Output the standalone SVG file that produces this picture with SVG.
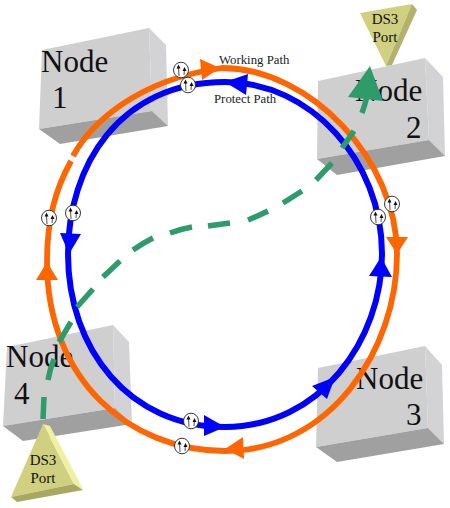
<svg xmlns="http://www.w3.org/2000/svg" width="450" height="508" viewBox="0 0 450 508">
<style>
.f{fill:#cfcfcf}.s{fill:#d3d3d5}.b{fill:#a0a0a0}
.n{font-family:"Liberation Serif","Times New Roman",serif;font-size:31px;fill:#111}
.d{font-family:"Liberation Serif","Times New Roman",serif;font-size:15px;fill:#111;text-anchor:middle}
.l{font-family:"Liberation Serif","Times New Roman",serif;font-size:12.8px;fill:#222}
.o{fill:none;stroke:#ff6600;stroke-width:5.8}
.u{fill:none;stroke:#0000ff;stroke-width:6}
.g{fill:none;stroke:#2e9b6a;stroke-width:5.5}
.oa{fill:#ff6600}.ua{fill:#0000ff}.ga{fill:#2e9b6a}
.t1{fill:#d0d080}.t2{fill:#b2b26c}.t3{fill:#f0f0a0}.t4{fill:#a8a860}
</style>
<defs>
<g id="sw">
<ellipse cx="0" cy="0" rx="7.5" ry="7.8" fill="#fff" stroke="#222" stroke-width="0.9"/>
<path d="M-2,6L-2.5,-3M3,5L3.5,-1" stroke="#222" stroke-width="0.8" fill="none"/>
<path d="M-2.5,-5.5L-4.5,-1.5H-0.5ZM3.5,-3L1.5,1H5.5Z" fill="#111"/>
</g>
</defs>
<g id="node1">
<polygon class="f" points="42,50 149,28 152,111 39,129"/>
<polygon class="s" points="149,28 166,45 168,126 152,111"/>
<polygon class="b" points="39,129 152,111 168,126 60,144"/>
<text class="n" x="41" y="72">Node</text><text class="n" x="52" y="108">1</text>
</g>
<g id="node2">
<polygon class="f" points="318,81 425,58 429,140 317,159"/>
<polygon class="s" points="425,58 443,77 445,156 429,140"/>
<polygon class="b" points="317,159 429,140 445,156 337,175"/>
<text class="n" x="355" y="101">Node</text><text class="n" x="406" y="138">2</text>
</g>
<g id="node3">
<polygon class="f" points="318,368 425,346 428,428 316,447"/>
<polygon class="s" points="425,346 442,365 444,444 428,428"/>
<polygon class="b" points="316,447 428,428 444,444 337,462"/>
<text class="n" x="356" y="389">Node</text><text class="n" x="406" y="425">3</text>
</g>
<g id="node4">
<polygon class="f" points="7,347 113,325 115,408 3,426"/>
<polygon class="s" points="113,325 129,342 132,424 115,408"/>
<polygon class="b" points="3,426 115,408 132,424 23,441"/>
<text class="n" x="6" y="367">Node</text><text class="n" x="14" y="404">4</text>
</g>
<g id="connectors">
<path class="o" d="M73,156C90,125 135,80 222,68C310,68 397,160 397,254C397,350 330,451 225,451C130,451 47,380 47,262C47,220 55,190 71,161"/>
<path class="u" d="M68,254C68,165 120,82 225,82C310,82 382,160 382,254C382,340 320,427 225,427C130,427 68,350 68,254"/>
<polygon class="oa" points="220,68 200,59 202,80"/>
<polygon class="oa" points="397,254 386,237 408,237"/>
<polygon class="oa" points="225,449 243,437 244,459"/>
<polygon class="oa" points="47,262 36,280 58,280"/>
<polygon class="ua" points="225,82 248,74 246,95"/>
<polygon class="ua" points="69,254 60,233 81,234"/>
<polygon class="ua" points="381,257 369,276 392,277"/>
<polygon class="ua" points="335,377 312,386 327,399"/>
<polygon class="ua" points="225,427 204,415 204,436"/>
<path class="g" d="M43,419L44,397M48,380Q50,369 54,359M59,342L71,322M77,307L93,289M103,277L120,261M133,250Q143,243 153,238M170,233Q181,229 192,227M208,226L230,223M248,220Q258,216 268,211M283,203L302,191M316,180L332,163M342,148L354,131M362,113Q365,105 367,96"/>
<polygon class="ga" points="370,66 348,97 383,101"/>
<use href="#sw" x="181" y="70"/><use href="#sw" x="188" y="85"/>
<use href="#sw" x="49" y="218"/><use href="#sw" x="73" y="213"/>
<use href="#sw" x="392" y="204"/><use href="#sw" x="378" y="217"/>
<use href="#sw" x="191" y="421"/><use href="#sw" x="182" y="446"/>
</g>
<g id="port-top">
<polygon class="t1" points="360,13 412,4 386,66"/>
<polygon class="t2" points="412,4 417,10 392,65 386,66"/>
<text class="d" x="385" y="24">DS3</text><text class="d" x="385" y="42">Port</text>
</g>
<g id="port-bottom">
<polygon class="t1" points="43,424 74,484 11,497"/>
<polygon class="t3" points="43,424 50,426 83,489 74,484"/>
<polygon class="t4" points="11,497 74,484 83,490 17,502"/>
<text class="d" x="43" y="465">DS3</text><text class="d" x="43" y="483">Port</text>
</g>
<g id="labels">
<text class="l" x="219" y="64">Working Path</text>
<text class="l" x="214" y="103">Protect Path</text>
</g>
</svg>
